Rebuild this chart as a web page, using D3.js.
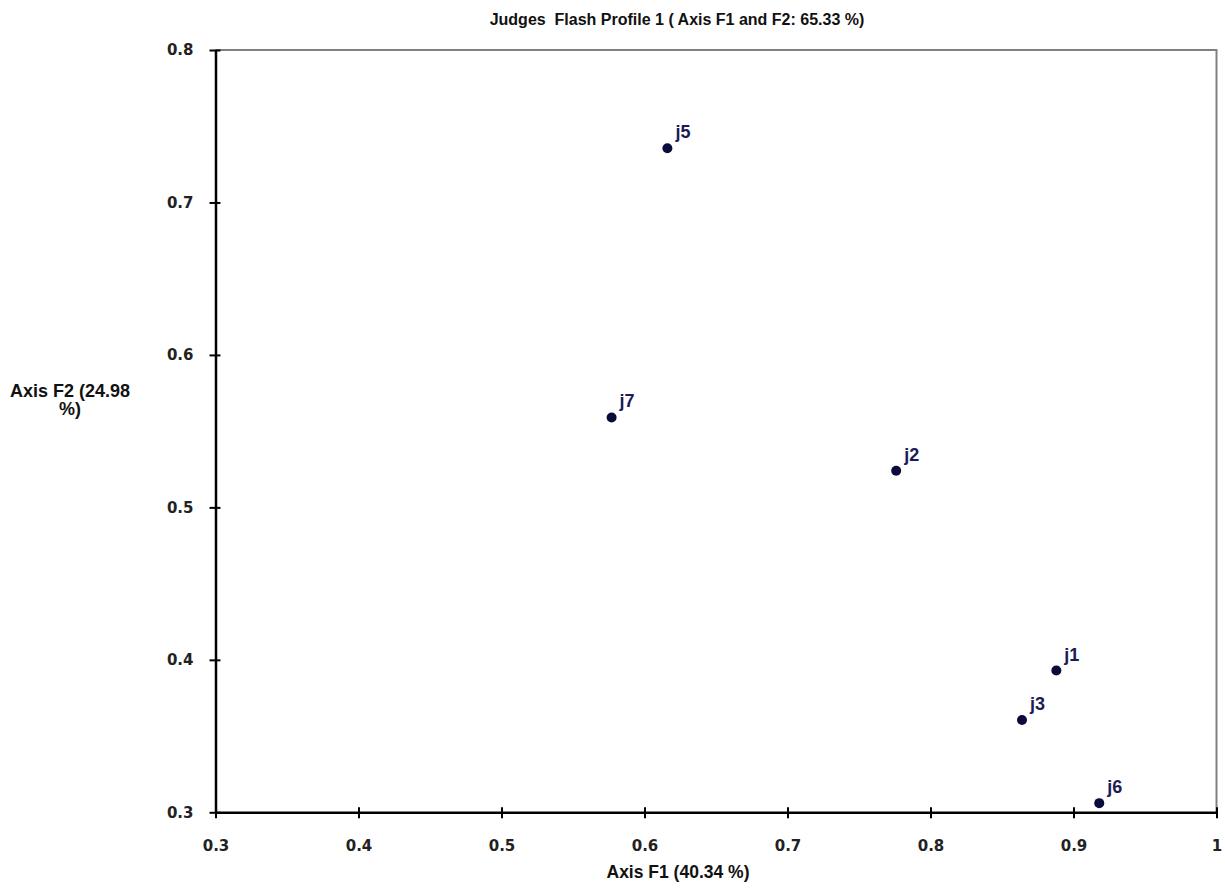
<!DOCTYPE html>
<html><head><meta charset="utf-8">
<script src="https://cdn.jsdelivr.net/npm/d3@7"></script>
<style>body{margin:0;background:#fff}svg{display:block}.lab{font-family:"Liberation Sans",Arial,sans-serif;font-weight:bold}.tk{font-family:"DejaVu Sans",sans-serif;font-weight:bold}</style>
</head><body><svg id="c" width="1225" height="893"></svg>
<script>
const judges = ["j1","j2","j3","j5","j6","j7"];
const f1 = [0.888, 0.776, 0.864, 0.616, 0.918, 0.577];
const f2 = [0.393, 0.524, 0.3605, 0.7355, 0.306, 0.559];
const xTicks = [0.3,0.4,0.5,0.6,0.7,0.8,0.9,1];
const yTicks = [0.3,0.4,0.5,0.6,0.7,0.8];
const title = "Judges  Flash Profile 1 ( Axis F1 and F2: 65.33 %)";
const xTitle = "Axis F1 (40.34 %)";
const yTitle = ["Axis F2 (24.98", "%)"];

const svg = d3.select("#c");
const L=215.5, R=1216.5, T=50, B=812.3;
const x = d3.scaleLinear().domain([0.3,1]).range([L,R]);
const y = d3.scaleLinear().domain([0.3,0.8]).range([B,T]);

// top/right frame
svg.append("path").attr("d",`M${L},${T}H${R}V${B}`).attr("fill","none").attr("stroke","#808080").attr("stroke-width",2);

// axes
const xa = svg.append("g").attr("transform",`translate(0,${B})`)
  .call(d3.axisBottom(x).tickValues(xTicks).tickFormat(d=>d===1?"1":d3.format(".1f")(d)).tickSize(6).tickSizeOuter(0));
xa.select(".domain").attr("stroke","#000").attr("stroke-width",2.5);
xa.selectAll(".tick line").attr("stroke","#000").attr("stroke-width",2).attr("y1",-5).attr("y2",6);
xa.selectAll(".tick text").attr("class","tk").attr("y",39).attr("dy",null).attr("font-size",15).attr("fill","#222");

const ya = svg.append("g").attr("transform",`translate(${L},0)`)
  .call(d3.axisLeft(y).tickValues(yTicks).tickFormat(d3.format(".1f")).tickSize(6).tickSizeOuter(0).tickPadding(16));
ya.select(".domain").attr("stroke","#000").attr("stroke-width",2.5);
ya.selectAll(".tick line").attr("stroke","#000").attr("stroke-width",2).attr("x1",5).attr("x2",-6);
ya.selectAll(".tick text").attr("class","tk").attr("font-size",15).attr("fill","#222");

// titles
svg.append("text").attr("class","lab").attr("x",677).attr("y",25).attr("text-anchor","middle").attr("font-size",16).attr("fill","#111").style("white-space","pre").text(title);
svg.append("text").attr("class","lab").attr("x",678).attr("y",878).attr("text-anchor","middle").attr("font-size",17.5).attr("fill","#111").text(xTitle);
svg.append("text").attr("class","lab").attr("x",70).attr("y",397).attr("text-anchor","middle").attr("font-size",18).attr("fill","#111").text(yTitle[0]);
svg.append("text").attr("class","lab").attr("x",70).attr("y",415).attr("text-anchor","middle").attr("font-size",18).attr("fill","#111").text(yTitle[1]);

// points
const data = judges.map((j,i)=>({j, a:f1[i], b:f2[i]}));
svg.append("g").selectAll("circle").data(data).join("circle")
  .attr("cx",d=>x(d.a)).attr("cy",d=>y(d.b)).attr("r",5).attr("fill","#0b0b3b");
svg.append("g").selectAll("text").data(data).join("text").attr("class","lab")
  .attr("x",d=>x(d.a)+8).attr("y",d=>y(d.b)-10).attr("font-size",18).attr("fill","#1b1b55").text(d=>d.j);
</script></body></html>
